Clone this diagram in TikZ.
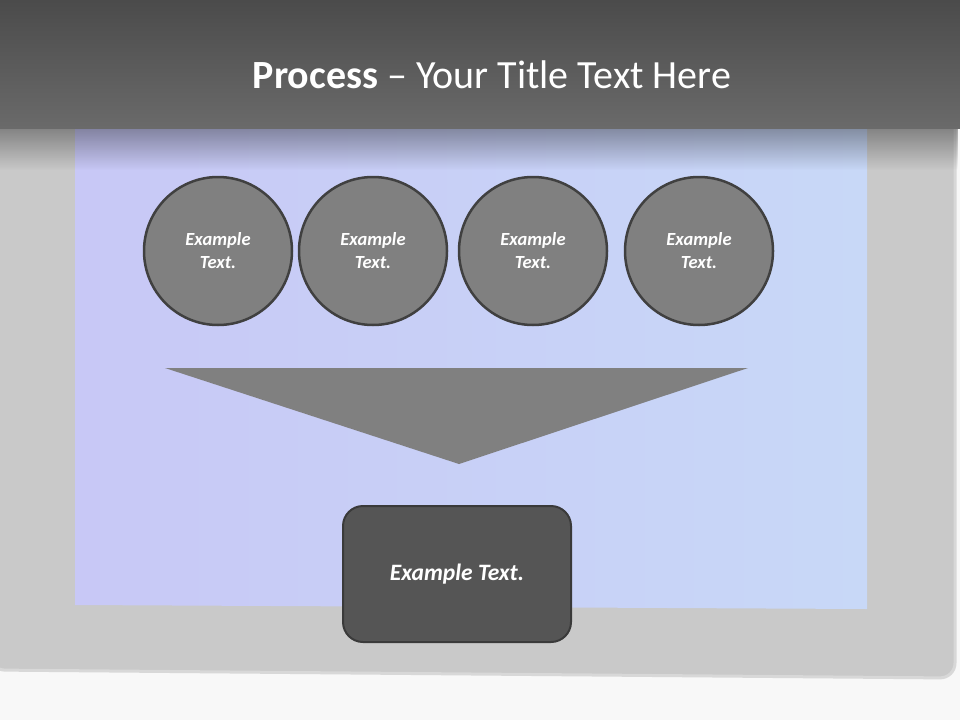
\documentclass[tikz,border=0pt]{standalone}
\usepackage{fontspec}
\setmainfont{Carlito}
\usepackage{tikz}
\usetikzlibrary{fadings}
\definecolor{barTop}{HTML}{4B4B4B}
\definecolor{barBottom}{HTML}{6A6A6A}
\definecolor{frameGray}{HTML}{C9C9C9}
\definecolor{frameEdge}{HTML}{D8D8D8}
\definecolor{pageWhite}{HTML}{F8F8F8}
\definecolor{panelLeft}{HTML}{C8C8F6}
\definecolor{panelRight}{HTML}{C8D8F7}
\definecolor{stepGray}{HTML}{808080}
\definecolor{stepLine}{HTML}{404040}
\definecolor{boxGray}{HTML}{555555}
\definecolor{boxLine}{HTML}{3A3A3A}

\begin{document}
\begin{tikzpicture}[x=1pt,y=-1pt,
    stepcircle/.style={circle,fill=stepGray,draw=stepLine,line width=2.5pt,
      minimum size=148pt,inner sep=0pt,align=center,text=white,
      font=\fontsize{18.5}{23}\selectfont\bfseries\itshape},
    resultbox/.style={rectangle,rounded corners=20pt,fill=boxGray,draw=boxLine,
      line width=2pt,minimum width=228pt,minimum height=136pt,text=white,
      font=\fontsize{23.5}{28}\selectfont\bfseries\itshape},
    funnel/.style={fill=stepGray}]
  \useasboundingbox (0,0) rectangle (960,720);
  % page and frame
  \fill[pageWhite] (0,0) rectangle (960,720);
  \draw[frameEdge,fill=frameGray,line width=3pt,rounded corners=15pt] (-10,110) -- (955,110) -- (955,678) -- (-10,670) -- cycle;
  % panel
  \shade[left color=panelLeft,right color=panelRight] (75,128) -- (867,128) -- (867,609) -- (75,605) -- cycle;
  % title bar and its shadow
  \fill[black,opacity=0.35,path fading=south] (0,128) rectangle (960,170);
  \shade[top color=barTop,bottom color=barBottom] (0,0) rectangle (960,128);
  \node (title) at (492,75) [text=white,font=\fontsize{40}{48}\selectfont]{\textbf{Process} – Your Title Text Here};
  % steps
  \node (s1) at (218,251)[stepcircle]{Example\\Text.};
  \node (s2) at (373,251)[stepcircle]{Example\\Text.};
  \node (s3) at (533,251)[stepcircle]{Example\\Text.};
  \node (s4) at (699,251)[stepcircle]{Example\\Text.};
  % funnel
  \fill[funnel] (165,368) -- (748,368) -- (459,464) -- cycle;
  % result
  \node (result) at (457,574)[resultbox]{Example Text.};
\end{tikzpicture}
\end{document}
